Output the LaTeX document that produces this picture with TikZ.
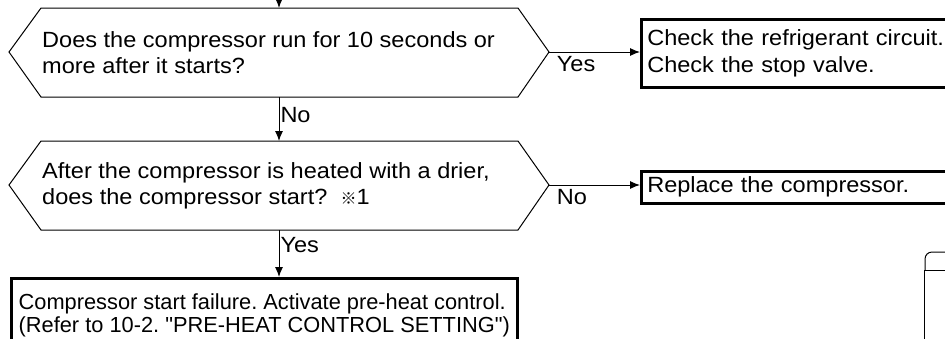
\documentclass[tikz,border=0pt]{standalone}
\usepackage{fontspec}
\setmainfont{Liberation Sans}[Ligatures=TeXOff]
\newfontfamily\wide{Liberation Sans}[FakeStretch=1.07,Ligatures=TeXOff]
\newfontfamily\cjk{Noto Sans CJK JP}
\usetikzlibrary{arrows.meta}
\frenchspacing

\tikzset{
  txt/.style={anchor=west,align=left,inner sep=0pt,font=\wide\fontsize{22}{26}\selectfont},
  decision/.style={line width=1pt},
  result/.style={draw,line width=2.5pt,anchor=north west,inner xsep=6pt,align=left,font=\wide\fontsize{22}{27}\selectfont},
  flow/.style={line width=1pt,-{Latex[length=10pt,width=8pt]}},
  ans/.style={inner sep=1pt,font=\wide\fontsize{22}{22}\selectfont}
}

\begin{document}
\begin{tikzpicture}[x=1pt,y=-1pt]
\clip (0,0) rectangle (945,338);
% first question
\coordinate (entry) at (279,-10);
\coordinate (q1n) at (279,8);
\coordinate (q1s) at (279,97);
\coordinate (q1e) at (549,52);
\draw[decision] (9,52) -- (41,8) -- (518,8) -- (q1e) -- (518,97) -- (41,97) -- cycle;
\node[txt] (q1) at (42,53) {Does the compressor run for 10 seconds or\\more after it starts?};
% second question
\coordinate (q2n) at (279,141);
\coordinate (q2s) at (279,230);
\coordinate (q2e) at (549,185);
\draw[decision] (9,185) -- (41,141) -- (518,141) -- (q2e) -- (518,230) -- (41,230) -- cycle;
\node[txt] (q2) at (42,186) {After the compressor is heated with a drier,\\does the compressor start?\ \ {\cjk\fontsize{16}{16}\selectfont ※}1};
% results
\node[result,text width=320pt,minimum height=68pt] (r1) at (640,18) {Check the refrigerant circuit.\\Check the stop valve.};
\node[result,text width=320pt,minimum height=32pt] (r2) at (640,170) {Replace the compressor.};
\node[result,minimum width=506pt,minimum height=75pt,
  font=\fontsize{21.8}{23}\selectfont] (r3) at (10,277) {Compressor start failure. Activate pre-heat control.\\(Refer to 10-2. "PRE-HEAT CONTROL SETTING")};
% connectors
\draw[flow] (entry) -- (q1n);
\draw[flow] (q1e) -- (q1e -| r1.west) node[ans,pos=0.07,anchor=north west,yshift=-3pt] {Yes};
\draw[flow] (q1s) -- (q2n) node[ans,pos=0.4,anchor=west] {No};
\draw[flow] (q2e) -- (q2e -| r2.west) node[ans,pos=0.07,anchor=north west,yshift=-3pt] {No};
\draw[flow] (q2s) -- (r3.north -| q2s) node[ans,pos=0.33,anchor=west] {Yes};
% next page tab
\draw[line width=1pt] (924,345) -- (924,270) -- (950,270);
\draw[line width=1pt,rounded corners=7pt] (925,270) -- (925,252) -- (950,252);
\end{tikzpicture}
\end{document}
